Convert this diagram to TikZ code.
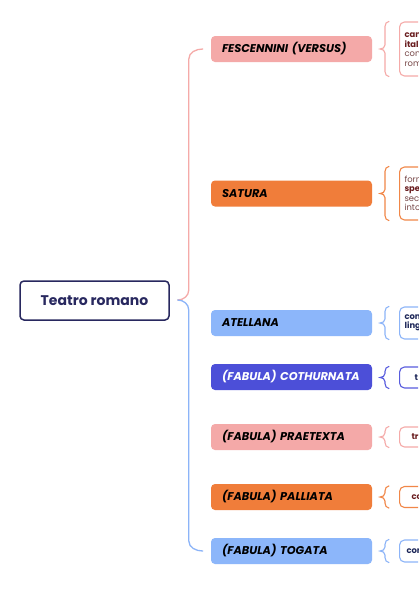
\documentclass[tikz,border=0pt]{standalone}
\usepackage{fontspec}
\setmainfont{Poppins}
\usetikzlibrary{calc}
\definecolor{pinkbox}{RGB}{244,169,168}
\definecolor{orangebox}{RGB}{240,125,58}
\definecolor{bluebox}{RGB}{140,182,250}
\definecolor{indigobox}{RGB}{76,79,216}
\definecolor{navy}{RGB}{40,40,95}
\definecolor{pinkline}{RGB}{245,170,168}
\definecolor{orangeline}{RGB}{241,135,72}
\definecolor{blueline}{RGB}{140,180,248}
\definecolor{indigoline}{RGB}{88,92,222}
\definecolor{redtext}{RGB}{105,28,30}
\definecolor{redsoft}{RGB}{120,72,72}
\definecolor{navytext}{RGB}{28,38,88}
\tikzset{
  rootbox/.style={draw=navy, line width=1.5pt, rounded corners=4pt, fill=white,
    minimum width=149pt, minimum height=39pt, inner sep=0pt,
    font=\fontsize{14}{16}\selectfont\bfseries, text=navy},
  catbox/.style={fill=#1, rounded corners=4pt, minimum width=161pt, minimum height=26pt,
    text width=139pt, inner xsep=11pt, inner ysep=0pt, align=left,
    font=\fontsize{11.3}{13}\selectfont\bfseries\itshape, text=black},
  detbox/.style={draw=#1, line width=1.1pt, rounded corners=5pt, fill=white,
    minimum width=120pt, text width=110pt, inner xsep=5pt, align=left, anchor=west,
    font=\fontsize{8.4}{11}\selectfont},
  trunk/.style={line width=1.3pt, line cap=round},
  brace/.style={draw=#1, line width=1.1pt, line cap=round}
}
\newcommand{\smallbrace}[2]{%
  \draw[brace=#2] ($(#1.north west)+(-10,0)$) to[out=180,in=90] ($(#1.north west)+(-14,5)$)
    -- ($(#1.west)+(-14,-4)$) to[out=-90,in=0] ($(#1.west)+(-19,0)$)
    to[out=0,in=90] ($(#1.west)+(-14,4)$)
    -- ($(#1.south west)+(-14,-5)$) to[out=-90,in=180] ($(#1.south west)+(-10,0)$);}
\begin{document}
\begin{tikzpicture}[x=1pt,y=-1pt]
\useasboundingbox (0,0) rectangle (418,600);
\clip (0,0) rectangle (418,600);
\fill[white] (0,0) rectangle (418,600);

\node[rootbox] (teatro) at (94.5,300.5) {Teatro romano};

\node[catbox=pinkbox] (fes) at (291.5,49) {\mbox{FESCENNINI (VERSUS)}};
\node[catbox=orangebox] (sat) at (291.5,193.5) {\mbox{SATURA}};
\node[catbox=bluebox] (ate) at (291.5,323) {\mbox{ATELLANA}};
\node[catbox=indigobox, text=white] (cot) at (291.5,377) {\mbox{(FABULA) COTHURNATA}};
\node[catbox=pinkbox] (pra) at (291.5,437) {\mbox{(FABULA) PRAETEXTA}};
\node[catbox=orangebox] (pal) at (291.5,497) {\mbox{(FABULA) PALLIATA}};
\node[catbox=bluebox] (tog) at (291.5,551) {\mbox{(FABULA) TOGATA}};

% main brace
\coordinate (j) at ($(teatro.east)+(8,-0.5)$);
\draw[trunk, draw=pinkline] (j) to[out=0,in=-90] ($(j)+(11,-10)$)
  -- ($(fes.west)+(-22,10)$) to[out=90,in=180] ($(fes.west)+(-8,0)$);
\draw[trunk, draw=blueline] (j) to[out=0,in=90] ($(j)+(11,10)$)
  -- ($(tog.west)+(-22,-10)$) to[out=-90,in=180] ($(tog.west)+(-8,0)$);

% detail boxes
\node[detbox=pinkline, minimum height=54pt, text=redtext] (dfes) at (399,49)
  {\textbf{cant}\\[-1.5pt]\textbf{itali}\\[-1.5pt]{\color{redsoft}con}\\[-1.5pt]{\color{redsoft}rom}};
\node[detbox=orangeline, minimum height=53pt, text=redtext] (dsat) at (399,193.5)
  {{\color{redsoft}form}\\[-1.5pt]\textbf{spet}\\[-1.5pt]{\color{redsoft}seco}\\[-1.5pt]{\color{redsoft}into}};
\node[detbox=blueline, minimum height=32pt, text=navytext] (date) at (399,323)
  {\textbf{com}\\[-1.5pt]\textbf{ling}};
\node[detbox=indigoline, minimum height=21pt, text=navytext, inner xsep=15pt] (dcot) at (399,377.5)
  {\textbf{t}};
\node[detbox=pinkline, minimum height=20pt, text=redtext, inner xsep=12pt] (dpra) at (399,437)
  {\textbf{tr}};
\node[detbox=orangeline, minimum height=21pt, text=redtext, inner xsep=12pt] (dpal) at (399,497)
  {\textbf{co}};
\node[detbox=blueline, minimum height=22pt, text=navytext, inner xsep=7pt] (dtog) at (399,551)
  {\textbf{con}};

\smallbrace{dfes}{pinkline}
\smallbrace{dsat}{orangeline}
\smallbrace{date}{blueline}
\smallbrace{dcot}{indigoline}
\smallbrace{dpra}{pinkline}
\smallbrace{dpal}{orangeline}
\smallbrace{dtog}{blueline}
\end{tikzpicture}
\end{document}
